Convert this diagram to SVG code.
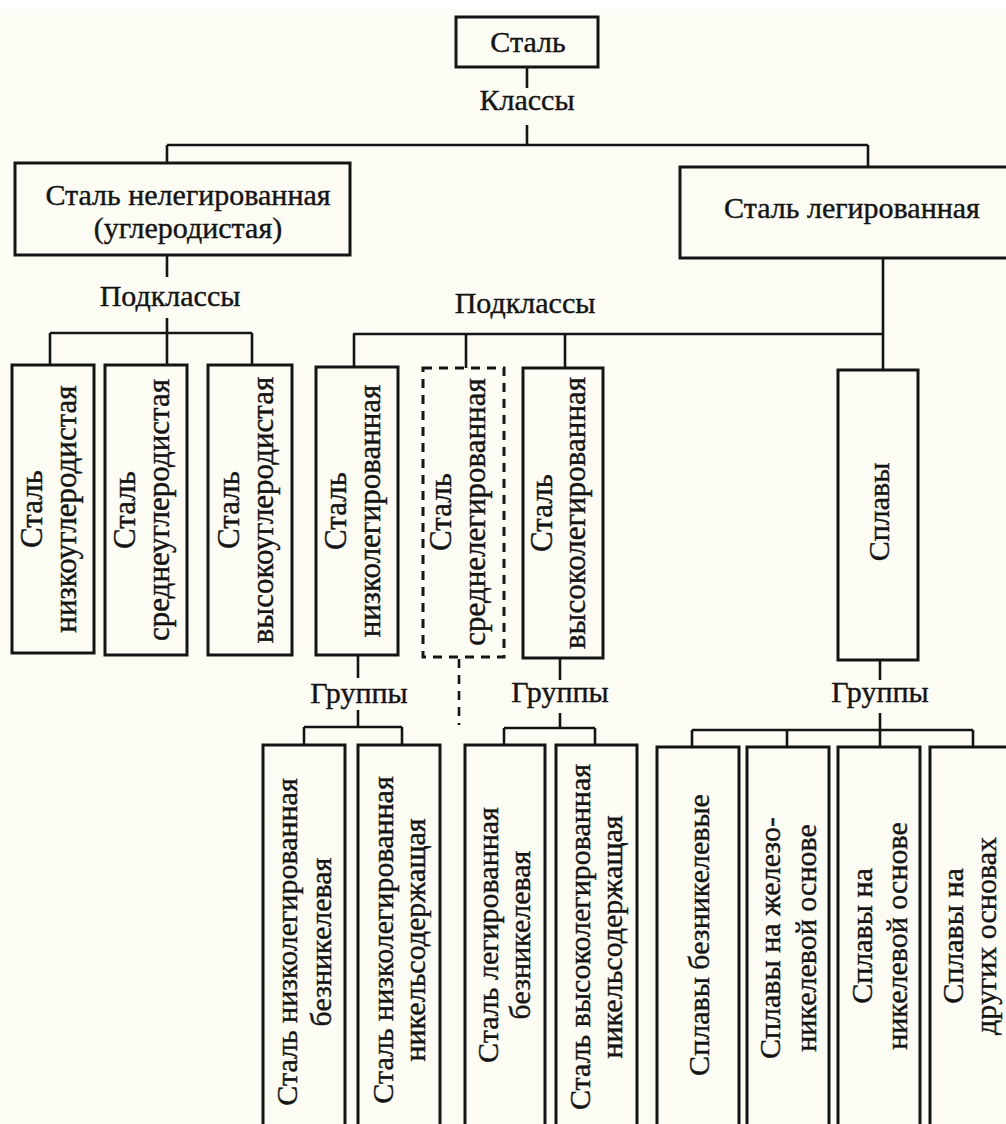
<svg xmlns="http://www.w3.org/2000/svg" width="1006" height="1124" viewBox="0 0 1006 1124">
<style>
.bx{fill:none;stroke:#141414;stroke-width:3}
.dsh{stroke-dasharray:9 7}
.ln{fill:none;stroke:#141414;stroke-width:2.6}
text{font-family:"Liberation Serif","Times New Roman",serif;font-size:30px;fill:#141414;stroke:#141414;stroke-width:0.4;text-anchor:middle}
.v31{font-size:31px}
</style>
<rect x="0" y="0" width="1006" height="1124" fill="#fcfcf5"/>
<rect x="0" y="0" width="1006" height="9" fill="#ffffff"/>
<g id="connectors">
<path class="ln" d="M527,67V88M527,125V145M167,145H868M167,145V163M868,145V167"/>
<path class="ln" d="M167,255V277M167,318V365M50,333H252M50,333V365M252,333V365"/>
<path class="ln" d="M883,258V370M353,334H883M354,334V367M466,334V368M565,334V368"/>
<path class="ln" d="M358,655V678M358,710V727M304,727H402M304,727V745M402,727V745"/>
<path class="ln dsh" d="M459,659V725"/>
<path class="ln" d="M560,658V680M560,713V728M504,728H595M504,728V745M595,728V745"/>
<path class="ln" d="M880,660V680M880,713V747M692,730H973M692,730V747M787,730V747M973,730V747"/>
</g>
<g id="labels">
<text x="527" y="110">Классы</text>
<text x="170" y="306">Подклассы</text>
<text x="525" y="313">Подклассы</text>
<text x="359" y="703">Группы</text>
<text x="560" y="702">Группы</text>
<text x="880" y="702">Группы</text>
</g>
<g id="n-steel"><rect class="bx" x="456" y="17" width="142" height="50"/><text x="528" y="52">Сталь</text></g>
<g id="n-unalloyed"><rect class="bx" x="15" y="163" width="335" height="92"/><text x="188" y="205">Сталь нелегированная</text><text x="188" y="238">(углеродистая)</text></g>
<g id="n-alloyed"><rect class="bx" x="680" y="167" width="340" height="91"/><text x="852" y="218">Сталь легированная</text></g>
<g id="n-lowcarbon"><rect class="bx" x="12" y="365" width="82" height="288"/><text class="v31" transform="translate(53,509) rotate(-90)"><tspan x="0" y="-11">Сталь</tspan><tspan x="0" y="23">низкоуглеродистая</tspan></text></g>
<g id="n-midcarbon"><rect class="bx" x="105" y="365" width="82" height="290"/><text class="v31" transform="translate(146,510) rotate(-90)"><tspan x="0" y="-11">Сталь</tspan><tspan x="0" y="23">среднеуглеродистая</tspan></text></g>
<g id="n-highcarbon"><rect class="bx" x="208" y="365" width="84" height="290"/><text class="v31" transform="translate(250,510) rotate(-90)"><tspan x="0" y="-11">Сталь</tspan><tspan x="0" y="23">высокоуглеродистая</tspan></text></g>
<g id="n-lowalloy"><rect class="bx" x="316" y="367" width="82" height="288"/><text class="v31" transform="translate(357,511) rotate(-90)"><tspan x="0" y="-11">Сталь</tspan><tspan x="0" y="23">низколегированная</tspan></text></g>
<g id="n-midalloy"><rect class="bx dsh" x="423" y="368" width="81" height="289"/><text class="v31" transform="translate(463,512) rotate(-90)"><tspan x="0" y="-12">Сталь</tspan><tspan x="0" y="22">среднелегированная</tspan></text></g>
<g id="n-highalloy"><rect class="bx" x="523" y="368" width="80" height="290"/><text class="v31" transform="translate(563,513) rotate(-90)"><tspan x="0" y="-11">Сталь</tspan><tspan x="0" y="22">высоколегированная</tspan></text></g>
<g id="n-alloys"><rect class="bx" x="838" y="370" width="80" height="290"/><text transform="translate(878,512) rotate(-90)"><tspan x="0" y="11">Сплавы</tspan></text></g>
<g id="n-a"><rect class="bx" x="263" y="745" width="82" height="400"/><text transform="translate(304,942) rotate(-90)"><tspan x="0" y="-7">Сталь низколегированная</tspan><tspan x="0" y="27">безникелевая</tspan></text></g>
<g id="n-b"><rect class="bx" x="358" y="745" width="82" height="400"/><text transform="translate(399,940) rotate(-90)"><tspan x="0" y="-6">Сталь низколегированная</tspan><tspan x="0" y="26">никельсодержащая</tspan></text></g>
<g id="n-c"><rect class="bx" x="465" y="745" width="80" height="400"/><text transform="translate(505,935) rotate(-90)"><tspan x="0" y="-7">Сталь легированная</tspan><tspan x="0" y="25">безникелевая</tspan></text></g>
<g id="n-d"><rect class="bx" x="556" y="745" width="81" height="400"/><text transform="translate(596,937) rotate(-90)"><tspan x="0" y="-6">Сталь высоколегированная</tspan><tspan x="0" y="26">никельсодержащая</tspan></text></g>
<g id="n-e"><rect class="bx" x="657" y="747" width="82" height="400"/><text transform="translate(698,935) rotate(-90)"><tspan x="0" y="11">Сплавы безникелевые</tspan></text></g>
<g id="n-f"><rect class="bx" x="747" y="747" width="82" height="400"/><text transform="translate(788,938) rotate(-90)"><tspan x="0" y="-8">Сплавы на железо-</tspan><tspan x="0" y="28">никелевой основе</tspan></text></g>
<g id="n-g"><rect class="bx" x="838" y="747" width="82" height="400"/><text transform="translate(879,936) rotate(-90)"><tspan x="0" y="-7">Сплавы на</tspan><tspan x="0" y="28">никелевой основе</tspan></text></g>
<g id="n-h"><rect class="bx" x="930" y="747" width="90" height="400"/><text transform="translate(966,936) rotate(-90)"><tspan x="0" y="-3">Сплавы на</tspan><tspan x="0" y="30">других основах</tspan></text></g>
</svg>
